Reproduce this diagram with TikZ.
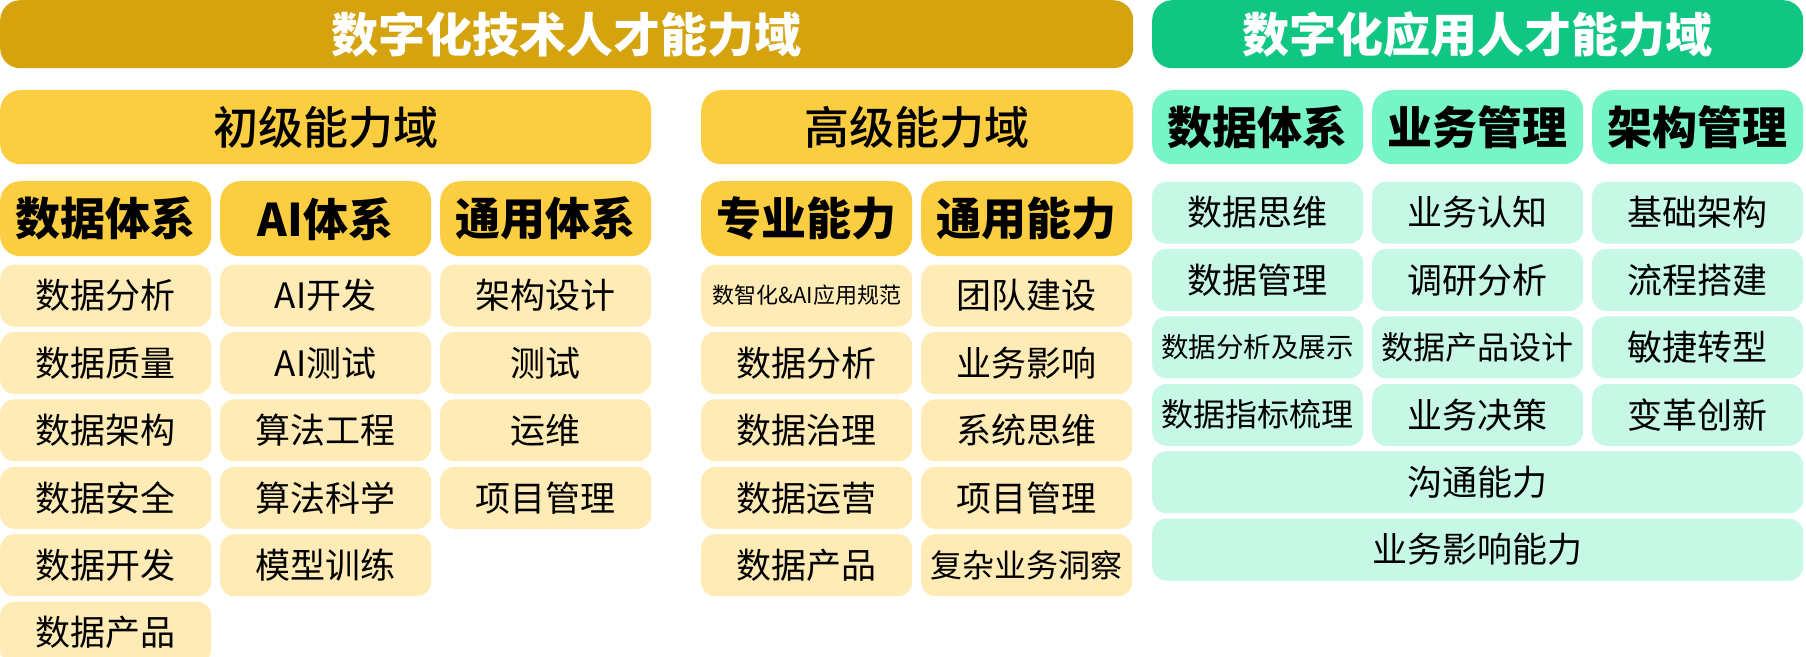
\documentclass[tikz,border=0pt]{standalone}
\usepackage{fontspec}
\setmainfont{Noto Sans CJK SC}
\newfontfamily\medfont{Noto Sans CJK SC Medium}
\usetikzlibrary{positioning}

\definecolor{goldbar}{HTML}{D4A30E}
\definecolor{goldhead}{HTML}{FBCD40}
\definecolor{golditem}{HTML}{FEEBB6}
\definecolor{greenbar}{HTML}{0FC683}
\definecolor{greenhead}{HTML}{78F5C6}
\definecolor{greenitem}{HTML}{C7F8E5}

\begin{document}
\begin{tikzpicture}[x=1pt,y=-1pt,
    topbar/.style={rectangle,inner sep=0pt,anchor=north west,rounded corners=20pt,
      minimum height=68pt,text=white,font=\fontsize{47pt}{52pt}\selectfont\bfseries},
    lvlbox/.style={rectangle,inner sep=0pt,anchor=north west,rounded corners=20pt,
      minimum height=74pt,fill=goldhead,font=\fontsize{45pt}{50pt}\medfont},
    catbox/.style={rectangle,inner sep=0pt,anchor=north west,rounded corners=20pt,
      minimum width=211pt,minimum height=74pt,font=\fontsize{45pt}{50pt}\selectfont\bfseries},
    itembox/.style={rectangle,inner sep=0pt,anchor=north west,rounded corners=14pt,
      minimum width=211pt,minimum height=62pt,font=\fontsize{35pt}{40pt}\selectfont},
    gitem/.style={itembox,fill=golditem},
    nitem/.style={itembox,fill=greenitem}]
      \useasboundingbox (0,0) rectangle (1806,656);

      % top bars
      \node[topbar,fill=goldbar,minimum width=1133pt] (tech) at (0,0) {数字化技术人才能力域};
      \node[topbar,fill=greenbar,minimum width=651pt] (app) at (1152,0) {数字化应用人才能力域};

      % levels
      \node[lvlbox,minimum width=651pt] (junior) at (0,90) {初级能力域};
      \node[lvlbox,minimum width=432pt] (senior) at (701,90) {高级能力域};

      \node[catbox,fill=goldhead,minimum height=75pt] (jd) at (0,181) {数据体系};
      \node[catbox,fill=goldhead,minimum height=75pt] (ja) at (220,181) {AI体系};
      \node[catbox,fill=goldhead,minimum height=75pt] (jg) at (440,181) {通用体系};
      \node[catbox,fill=goldhead,minimum height=75pt] (sp) at (701,181) {专业能力};
      \node[catbox,fill=goldhead,minimum height=75pt] (sg) at (921,181) {通用能力};

      \node[catbox,fill=greenhead] (nd) at (1152,90) {数据体系};
      \node[catbox,fill=greenhead] (nb) at (1372,90) {业务管理};
      \node[catbox,fill=greenhead] (na) at (1592,90) {架构管理};

      % junior: data
      \node[gitem,below=8pt of jd] (jd1) {数据分析};
      \node[gitem,below=5pt of jd1] (jd2) {数据质量};
      \node[gitem,below=5pt of jd2] (jd3) {数据架构};
      \node[gitem,below=5pt of jd3] (jd4) {数据安全};
      \node[gitem,below=5pt of jd4] (jd5) {数据开发};
      \node[gitem,below=5pt of jd5] (jd6) {数据产品};

      % junior: AI
      \node[gitem,below=8pt of ja] (ja1) {AI开发};
      \node[gitem,below=5pt of ja1] (ja2) {AI测试};
      \node[gitem,below=5pt of ja2] (ja3) {算法工程};
      \node[gitem,below=5pt of ja3] (ja4) {算法科学};
      \node[gitem,below=5pt of ja4] (ja5) {模型训练};

      % junior: general
      \node[gitem,below=8pt of jg] (jg1) {架构设计};
      \node[gitem,below=5pt of jg1] (jg2) {测试};
      \node[gitem,below=5pt of jg2] (jg3) {运维};
      \node[gitem,below=5pt of jg3] (jg4) {项目管理};

      % senior
      \node[gitem,below=8pt of sp,font=\fontsize{22pt}{26pt}\selectfont] (sp1) {数智化\&AI应用规范};
      \node[gitem,below=5pt of sp1] (sp2) {数据分析};
      \node[gitem,below=5pt of sp2] (sp3) {数据治理};
      \node[gitem,below=5pt of sp3] (sp4) {数据运营};
      \node[gitem,below=5pt of sp4] (sp5) {数据产品};

      \node[gitem,below=8pt of sg] (sg1) {团队建设};
      \node[gitem,below=5pt of sg1] (sg2) {业务影响};
      \node[gitem,below=5pt of sg2] (sg3) {系统思维};
      \node[gitem,below=5pt of sg3] (sg4) {项目管理};
      \node[gitem,below=5pt of sg4,font=\fontsize{32pt}{36pt}\selectfont] (sg5) {复杂业务洞察};

      % application
      \node[nitem,below=17pt of nd] (nd1) {数据思维};
      \node[nitem,below=5pt of nd1] (nd2) {数据管理};
      \node[nitem,below=5pt of nd2,font=\fontsize{27.5pt}{32pt}\selectfont] (nd3) {数据分析及展示};
      \node[nitem,below=5pt of nd3,font=\fontsize{32pt}{36pt}\selectfont] (nd4) {数据指标梳理};

      \node[nitem,below=17pt of nb] (nb1) {业务认知};
      \node[nitem,below=5pt of nb1] (nb2) {调研分析};
      \node[nitem,below=5pt of nb2,font=\fontsize{32pt}{36pt}\selectfont] (nb3) {数据产品设计};
      \node[nitem,below=5pt of nb3] (nb4) {业务决策};

      \node[nitem,below=17pt of na] (na1) {基础架构};
      \node[nitem,below=5pt of na1] (na2) {流程搭建};
      \node[nitem,below=5pt of na2] (na3) {敏捷转型};
      \node[nitem,below=5pt of na3] (na4) {变革创新};

      \node[nitem,minimum width=651pt,below right=5pt and 0pt of nd4.south west] (talk) {沟通能力};
      \node[nitem,minimum width=651pt,below=5pt of talk] (impact) {业务影响能力};
    \end{tikzpicture}
\end{document}
